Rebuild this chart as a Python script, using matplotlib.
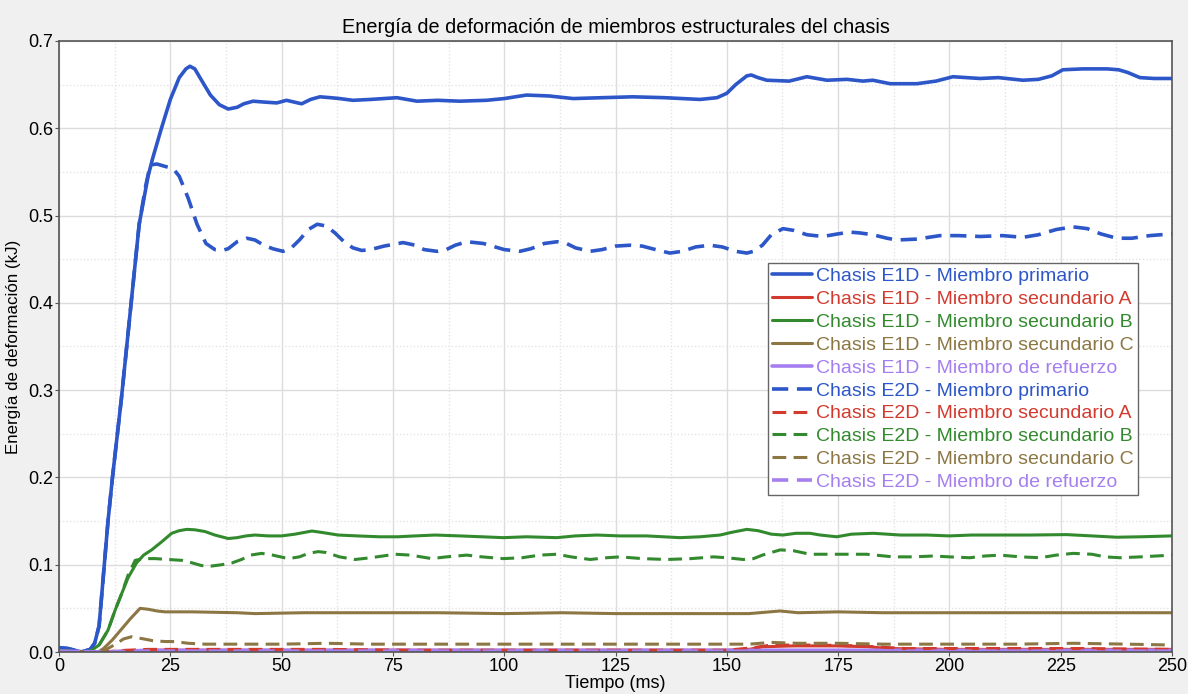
import matplotlib
matplotlib.use("Agg")
import matplotlib.pyplot as plt
from matplotlib.ticker import MultipleLocator

plt.rcParams['font.family'] = ['Liberation Sans', 'DejaVu Sans']

# Time (ms), strain energy (kJ) pairs for each structural member
e1d_primario = [(0, 0.005), (2, 0.004), (5, 0.0), (7, 0.003), (8, 0.01), (9, 0.03), (10, 0.09), (11, 0.15),
                (12, 0.20), (14, 0.29), (16, 0.39), (18, 0.49), (20, 0.545), (21, 0.565), (23, 0.60), (25, 0.633),
                (27, 0.658), (28.5, 0.668), (29.4, 0.671), (30.5, 0.668), (32, 0.655), (34, 0.638), (36, 0.627),
                (38, 0.622), (40, 0.624), (41.5, 0.628), (43.6, 0.631), (46, 0.630), (48.9, 0.629), (51.1, 0.632),
                (54.5, 0.628), (56.5, 0.633), (58.6, 0.636), (61, 0.635), (63, 0.634), (66, 0.632), (70, 0.633),
                (75.9, 0.635), (80.4, 0.631), (85, 0.632), (90, 0.631), (96, 0.632), (100, 0.634), (105, 0.638),
                (110, 0.637), (115.5, 0.634), (122, 0.635), (128.9, 0.636), (136, 0.635), (144, 0.633),
                (147.8, 0.635), (150, 0.640), (152, 0.650), (154.5, 0.660), (155.5, 0.661), (157, 0.658),
                (159, 0.655), (164, 0.654), (168, 0.659), (172.5, 0.655), (177, 0.656), (180.6, 0.654),
                (182.8, 0.655), (186.7, 0.651), (192.7, 0.651), (197, 0.654), (200.8, 0.659), (206.9, 0.657),
                (211, 0.658), (216.5, 0.655), (220, 0.656), (223, 0.660), (225.5, 0.667), (230, 0.668),
                (235.4, 0.668), (238, 0.667), (240, 0.664), (242.8, 0.658), (246, 0.657), (250, 0.657)]

e1d_sec_a = [(0, 0.002), (5, 0.0), (10, 0.0), (15, 0.001), (20, 0.002), (30, 0.002), (50, 0.002), (75, 0.002),
             (100, 0.002), (125, 0.002), (150, 0.002), (155, 0.003), (158, 0.006), (165, 0.007), (175, 0.007),
             (182, 0.006), (186, 0.004), (200, 0.003), (225, 0.003), (250, 0.003)]

e1d_sec_b = [(0, 0.002), (5, 0.0), (7, 0.001), (9, 0.008), (11, 0.025), (12.6, 0.048), (14, 0.066),
             (15.5, 0.085), (17.4, 0.102), (19, 0.111), (20.8, 0.117), (23, 0.126), (25.3, 0.136), (27, 0.139),
             (28.7, 0.1405), (30.5, 0.140), (32.8, 0.138), (35, 0.134), (38, 0.130), (40, 0.131), (42, 0.133),
             (44, 0.134), (47, 0.133), (50, 0.133), (53, 0.135), (56.8, 0.1386), (59, 0.137), (62.7, 0.134),
             (67, 0.133), (72, 0.132), (76.1, 0.132), (80, 0.133), (84.5, 0.134), (90, 0.133), (95, 0.132),
             (99.8, 0.131), (105, 0.132), (111.8, 0.131), (116, 0.133), (120.8, 0.134), (126, 0.133),
             (132, 0.133), (139.5, 0.131), (144, 0.132), (148.5, 0.134), (151, 0.137), (154.5, 0.1405),
             (157, 0.139), (160, 0.135), (162.6, 0.134), (165.5, 0.136), (168.7, 0.136), (171, 0.134),
             (174.7, 0.132), (178, 0.135), (182.9, 0.136), (186, 0.135), (189, 0.134), (195, 0.134),
             (200, 0.133), (205, 0.134), (211.4, 0.134), (218, 0.134), (226.3, 0.1345), (232, 0.133),
             (237.6, 0.1315), (243, 0.132), (250, 0.133)]

e1d_sec_c = [(0, 0.001), (5, 0.0), (8.8, 0.0), (10, 0.004), (12, 0.014), (14, 0.026), (16, 0.038),
             (18.2, 0.050), (20, 0.049), (22, 0.047), (23.8, 0.046), (30, 0.046), (40, 0.045), (44, 0.044),
             (55, 0.045), (70, 0.045), (85, 0.045), (100, 0.044), (113, 0.045), (125, 0.044), (140, 0.044),
             (155, 0.044), (162, 0.047), (166, 0.045), (175, 0.046), (185, 0.045), (200, 0.045), (215, 0.045),
             (230, 0.045), (240, 0.045), (250, 0.045)]

e1d_refuerzo = [(0, 0.001), (10, 0.0), (20, 0.002), (50, 0.002), (100, 0.002), (150, 0.002), (200, 0.002),
                (250, 0.002)]

e2d_primario = [(0, 0.005), (2, 0.004), (5, 0.0), (7, 0.003), (8, 0.01), (9, 0.03), (10, 0.09), (11, 0.15),
                (12, 0.20), (14, 0.29), (16, 0.39), (18, 0.49), (19.5, 0.535), (20.5, 0.558), (22, 0.559),
                (24, 0.556), (25.6, 0.554), (27, 0.545), (29, 0.52), (31, 0.49), (33, 0.468), (35, 0.461),
                (36.6, 0.460), (38, 0.462), (40, 0.470), (42.2, 0.474), (44, 0.472), (46, 0.466), (48, 0.462),
                (50.3, 0.459), (52, 0.462), (54, 0.472), (56, 0.484), (58, 0.490), (60, 0.488), (62, 0.480),
                (64, 0.470), (66, 0.463), (68, 0.460), (70, 0.461), (73, 0.465), (77.3, 0.469), (80, 0.466),
                (82, 0.461), (84.9, 0.459), (87, 0.461), (89, 0.466), (91.6, 0.470), (95.3, 0.468), (98, 0.464),
                (100, 0.461), (103.5, 0.459), (106, 0.462), (109, 0.468), (111.9, 0.470), (114, 0.468),
                (116, 0.463), (119.3, 0.459), (122, 0.461), (125, 0.465), (128.3, 0.466), (131, 0.465),
                (134, 0.461), (137.2, 0.457), (140, 0.459), (143, 0.464), (146.2, 0.466), (149, 0.464),
                (152, 0.459), (154.5, 0.457), (156, 0.459), (158, 0.466), (160, 0.478), (162.6, 0.485),
                (165, 0.483), (168, 0.478), (171.6, 0.476), (175, 0.479), (177.7, 0.481), (180, 0.480),
                (182.8, 0.478), (186, 0.474), (188.2, 0.472), (192.7, 0.473), (197.9, 0.477), (202, 0.477),
                (207, 0.476), (212, 0.477), (216.5, 0.475), (220, 0.478), (224, 0.484), (227.8, 0.487),
                (231, 0.485), (234, 0.479), (237.6, 0.474), (241, 0.474), (245, 0.477), (250, 0.479)]

e2d_sec_a = [(0, 0.001), (10, 0.0), (15, 0.002), (20, 0.003), (40, 0.003), (60, 0.003), (80, 0.002),
             (100, 0.002), (125, 0.002), (150, 0.002), (156, 0.005), (160, 0.008), (170, 0.008), (180, 0.007),
             (190, 0.004), (210, 0.004), (230, 0.004), (250, 0.003)]

e2d_sec_b = [(0, 0.002), (5, 0.0), (7, 0.001), (9, 0.008), (11, 0.025), (12.6, 0.048), (14, 0.066),
             (15.5, 0.088), (17.1, 0.105), (19, 0.107), (21.6, 0.107), (24.5, 0.106), (27.6, 0.105),
             (30, 0.102), (32, 0.099), (34.3, 0.0985), (36.5, 0.100), (38.8, 0.102), (41, 0.106), (43, 0.111),
             (45.5, 0.113), (48, 0.111), (51.5, 0.107), (54, 0.109), (56, 0.113), (58.2, 0.115), (60, 0.114),
             (63, 0.109), (66.5, 0.106), (70, 0.108), (75.5, 0.112), (79, 0.111), (83.7, 0.107), (87, 0.109),
             (91.6, 0.111), (95, 0.109), (99.8, 0.107), (104, 0.108), (108, 0.111), (111.8, 0.112),
             (115, 0.109), (119.3, 0.106), (123, 0.108), (126, 0.109), (131, 0.107), (136.5, 0.106),
             (142, 0.107), (147, 0.109), (150, 0.108), (153.7, 0.106), (156, 0.107), (158, 0.111),
             (162, 0.117), (165, 0.116), (168.7, 0.112), (172, 0.112), (175.4, 0.112), (181.4, 0.112),
             (187.4, 0.109), (192, 0.109), (196.4, 0.110), (200, 0.109), (204.6, 0.108), (208, 0.110),
             (211.4, 0.111), (216, 0.109), (220.4, 0.108), (224, 0.111), (227.8, 0.113), (232, 0.112),
             (235, 0.109), (238.3, 0.108), (243, 0.109), (250, 0.111)]

e2d_sec_c = [(0, 0.001), (5, 0.0), (9, 0.0), (11, 0.004), (13, 0.010), (14.5, 0.015), (16.3, 0.0175),
             (19, 0.015), (21, 0.013), (23.8, 0.012), (26, 0.012), (29, 0.010), (32.8, 0.009), (40, 0.009),
             (50, 0.009), (60, 0.010), (70, 0.009), (80, 0.009), (90, 0.009), (100, 0.009), (120, 0.009),
             (140, 0.009), (155, 0.009), (160, 0.011), (166, 0.010), (175, 0.010), (185, 0.009), (200, 0.009),
             (215, 0.009), (228, 0.010), (240, 0.009), (250, 0.008)]

e2d_refuerzo = [(0, 0.001), (10, 0.0), (20, 0.001), (50, 0.001), (100, 0.001), (150, 0.001), (200, 0.001),
                (250, 0.001)]

labels = ["Chasis E1D - Miembro primario", "Chasis E1D - Miembro secundario A",
          "Chasis E1D - Miembro secundario B", "Chasis E1D - Miembro secundario C",
          "Chasis E1D - Miembro de refuerzo", "Chasis E2D - Miembro primario",
          "Chasis E2D - Miembro secundario A", "Chasis E2D - Miembro secundario B",
          "Chasis E2D - Miembro secundario C", "Chasis E2D - Miembro de refuerzo"]

series = [e1d_primario, e1d_sec_a, e1d_sec_b, e1d_sec_c, e1d_refuerzo,
          e2d_primario, e2d_sec_a, e2d_sec_b, e2d_sec_c, e2d_refuerzo]

colors = ["#2d57c8", "#d23a2e", "#338a2e", "#8c7744", "#a57ef0"]
widths = [2.6, 2.2, 2.2, 2.2, 2.6]

fig = plt.figure(figsize=(11.88, 6.94), dpi=100, facecolor="#f0f0f0")
ax = fig.add_axes([0.0497, 0.0605, 0.9368, 0.8805])
ax.set_facecolor("white")

handles = []
for i, (data, label) in enumerate(zip(series, labels)):
    t = [p[0] for p in data]
    v = [p[1] for p in data]
    k = i % 5
    if i < 5:
        (ln,) = ax.plot(t, v, color=colors[k], lw=widths[k], label=label, solid_capstyle="round")
    else:
        (ln,) = ax.plot(t, v, color=colors[k], lw=widths[k], label=label, dashes=(4.5, 2.4))
    handles.append(ln)

ax.set_xlim(0, 250)
ax.set_ylim(0, 0.7)
ax.xaxis.set_major_locator(MultipleLocator(25))
ax.xaxis.set_minor_locator(MultipleLocator(12.5))
ax.yaxis.set_major_locator(MultipleLocator(0.1))
ax.yaxis.set_minor_locator(MultipleLocator(0.05))
ax.yaxis.set_major_formatter(matplotlib.ticker.FormatStrFormatter("%.1f"))

ax.grid(which="major", color="#dcdcdc", lw=1.0, ls="-")
ax.grid(which="minor", color="#e4e4e4", lw=1.0, ls=(0, (1, 1.5)))
ax.set_axisbelow(True)

for s in ax.spines.values():
    s.set_color("#555555")
    s.set_linewidth(1.2)

ax.tick_params(which="major", labelsize=13, length=3, color="#555555", pad=1)
ax.tick_params(which="minor", length=0)

ax.set_title("Energía de deformación de miembros estructurales del chasis", fontsize=14.3, pad=6)
ax.set_xlabel("Tiempo (ms)", fontsize=13, labelpad=0)
ax.set_ylabel("Energía de deformación (kJ)", fontsize=12.2, labelpad=5)

leg = ax.legend(handles=handles, loc="upper left", bbox_to_anchor=(0.637, 0.636), fontsize=14,
                frameon=True, fancybox=False, framealpha=1, edgecolor="#666666",
                handlelength=2.05, handletextpad=0.22, labelspacing=0.27, borderpad=0.22,
                borderaxespad=0)
leg.get_frame().set_linewidth(1.0)
for txt, c in zip(leg.get_texts(), colors * 2):
    txt.set_color(c)

fig.savefig("out.png", dpi=100, facecolor=fig.get_facecolor())
